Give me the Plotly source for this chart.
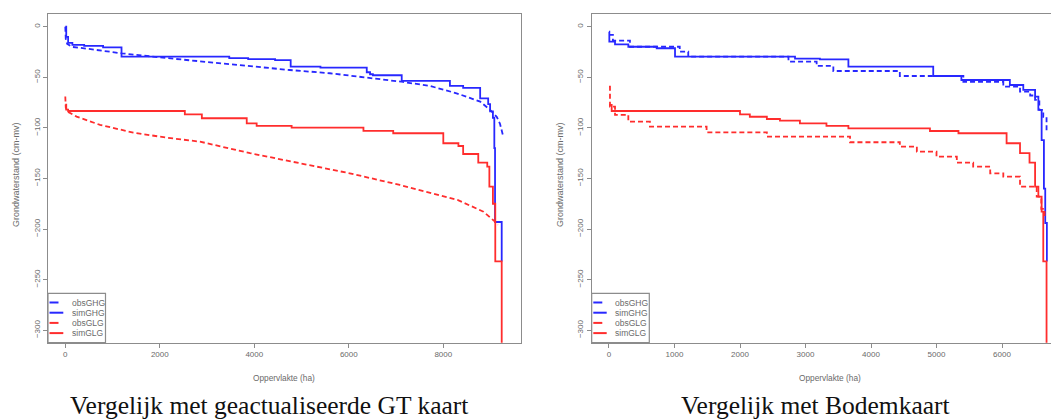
import plotly.graph_objects as go

W, H = 1051, 419

# ---------------- data (area in ha, groundwater level in cm-mv) ----------------
# Left panel: Vergelijk met geactualiseerde GT kaart
L_obsGHG_x = [0, 10, 40, 150, 500, 1190, 2150, 3000, 3900, 4750, 5600, 6380, 7150, 7720, 8280, 8780, 8990, 9130, 9200, 9270]
L_obsGHG_y = [0, -12, -17, -20, -22, -26.3, -31, -35, -38.8, -42.8, -46, -50, -54.6, -58.6, -65.8, -74, -82.3, -89, -96, -108.7]

L_simGHG_x = [0, 20, 60, 150, 400, 800, 1190, 3470, 3870, 4440, 4770, 5400, 6380, 6450, 6510, 7120, 8140, 8420, 8780, 8950, 8990, 9050, 9080, 9095, 9236]
L_simGHG_y = [0, -10, -16, -18, -19, -20.5, -29.6, -31, -32, -33, -39.5, -40.5, -45, -47, -48, -53.5, -58.5, -60.5, -70.8, -76.6, -83.6, -90, -120, -193, -232]

L_obsGLG_x = [0, 10, 50, 240, 735, 1440, 2150, 2850, 3910, 4970, 6020, 7080, 7790, 8300, 8850, 9095, 9150]
L_obsGLG_y = [-69, -80, -84, -88.9, -97, -104.7, -109.7, -113.6, -125, -135, -144.9, -156.4, -164.6, -171.2, -182.8, -192.7, -196]

L_simGLG_x = [0, 20, 60, 2530, 2890, 3840, 4050, 4790, 6310, 6940, 8000, 8320, 8420, 8740, 8930, 8975, 9050, 9100, 9236]
L_simGLG_y = [-77, -82, -83.3, -86.6, -90.5, -95.5, -98, -99.8, -103, -105.3, -115.2, -117.9, -125.8, -134.4, -138.3, -158, -175, -232, -340]

# Right panel: Vergelijk met Bodemkaart
R_obsGHG_x = [0, 60, 320, 1080, 1210, 2740, 3170, 3425, 4440, 5410, 6020, 6275, 6430, 6505, 6570, 6630, 6680]
R_obsGHG_y = [-8, -13.8, -19.8, -24.7, -29.6, -34.6, -38.8, -43.8, -48.7, -54.4, -59.3, -64.2, -68, -72.4, -82.3, -89, -105.3]

R_simGHG_x = [0, 5, 92, 295, 728, 1008, 2840, 3220, 3655, 4950, 5380, 6120, 6325, 6505, 6555, 6605, 6640, 6660, 6685]
R_simGHG_y = [-5, -14.8, -17.4, -19.8, -21.3, -29.6, -31.6, -32.2, -39.5, -48.7, -52.7, -57.6, -62.5, -69.2, -82.3, -112, -160, -194, -232]

R_obsGLG_x = [0, 15, 92, 295, 625, 1490, 2410, 3680, 4440, 4700, 5000, 5310, 5560, 5820, 6020, 6275, 6530, 6600, 6650]
R_obsGLG_y = [-59.3, -79, -87.2, -93.9, -98.8, -104.4, -108.7, -114.2, -118.6, -123.5, -128.5, -134.4, -138.3, -144.9, -148.2, -158, -168, -180, -190]

R_simGLG_x = [0, 41, 2000, 2150, 2410, 2610, 2915, 3320, 3655, 4900, 5335, 6070, 6275, 6420, 6505, 6555, 6605, 6630, 6680]
R_simGLG_y = [-77.4, -83.3, -86.6, -89, -91.2, -92.9, -95.5, -98.1, -100.4, -103.1, -105.3, -115.2, -125, -134.4, -158, -168, -182.8, -232, -340]

series_names = ["obsGHG", "simGHG", "obsGLG", "simGLG"]
y_ticks = [0, -50, -100, -150, -200, -250, -300]
L_x_ticks = [0, 2000, 4000, 6000, 8000]
R_x_ticks = [0, 1000, 2000, 3000, 4000, 5000, 6000]
captions = ["Vergelijk met geactualiseerde GT kaart", "Vergelijk met Bodemkaart"]
x_title = "Oppervlakte (ha)"
y_title = "Grondwaterstand (cm-mv)"

# ---------------- styling ----------------
BLUE = "rgb(40,40,255)"
RED = "rgb(255,45,45)"
DASH = "5px,3px"
GREY = "#8c8c8c"
TXT = "#6a6a6a"
colors = [BLUE, BLUE, RED, RED]
dashes = [DASH, "solid", DASH, "solid"]


def px(x):
    return x / W


def py(y):
    return 1 - y / H


fig = go.Figure()

left = [(L_obsGHG_x, L_obsGHG_y, "linear"), (L_simGHG_x, L_simGHG_y, "hv"),
        (L_obsGLG_x, L_obsGLG_y, "linear"), (L_simGLG_x, L_simGLG_y, "hv")]
right = [(R_obsGHG_x, R_obsGHG_y, "hv"), (R_simGHG_x, R_simGHG_y, "hv"),
         (R_obsGLG_x, R_obsGLG_y, "hv"), (R_simGLG_x, R_simGLG_y, "hv")]

for (xs, ys, shape), name, c, d in zip(left, series_names, colors, dashes):
    fig.add_trace(go.Scatter(x=xs, y=ys, mode="lines", name=name, showlegend=False,
                             line=dict(color=c, width=1.8, dash=d, shape=shape),
                             xaxis="x", yaxis="y"))
for (xs, ys, shape), name, c, d in zip(right, series_names, colors, dashes):
    fig.add_trace(go.Scatter(x=xs, y=ys, mode="lines", name=name, showlegend=False,
                             line=dict(color=c, width=1.8, dash=d, shape=shape),
                             xaxis="x2", yaxis="y2"))

ydom = [py(342.7), py(14)]
axis_common = dict(showgrid=False, zeroline=False, showline=True, linecolor=GREY, linewidth=1.3,
                   ticks="outside", ticklen=4, tickcolor=GREY, tickwidth=1,
                   tickfont=dict(family="Liberation Sans, Arial", size=8, color=TXT))

fig.update_layout(
    width=W, height=H, margin=dict(l=0, r=0, t=0, b=0),
    paper_bgcolor="white", plot_bgcolor="white", showlegend=False,
    xaxis=dict(domain=[px(48), px(520.7)], range=[-366, 9638], tickvals=L_x_ticks,
               anchor="y", mirror=True, **axis_common),
    yaxis=dict(domain=ydom, range=[-312.3, 12.55], tickvals=y_ticks, tickangle=-90,
               anchor="x", mirror=True, **axis_common),
    xaxis2=dict(domain=[px(591.7), 1.0], range=[-264, 6748], tickvals=R_x_ticks,
                anchor="y2", mirror=True, **axis_common),
    yaxis2=dict(domain=ydom, range=[-312.3, 12.55], tickvals=y_ticks, tickangle=-90,
                anchor="x2", mirror=False, **axis_common),
)

annotations = []
shapes = []

# axis titles and captions
for cx, capx, cap in zip([284, 830], [269, 815], captions):
    annotations.append(dict(x=px(cx), y=py(378), xref="paper", yref="paper", text=x_title,
                            xanchor="center", yanchor="middle",
                            showarrow=False, font=dict(family="Liberation Sans, Arial", size=8.3, color=TXT)))
    annotations.append(dict(x=px(capx), y=py(405.5), xref="paper", yref="paper", text=cap,
                            xanchor="center", yanchor="middle",
                            showarrow=False, font=dict(family="Liberation Serif, serif", size=25.5, color="#111")))
for lx in [16, 560]:
    annotations.append(dict(x=px(lx), y=py(175), xref="paper", yref="paper", text=y_title, textangle=-90,
                            xanchor="center", yanchor="middle",
                            showarrow=False, font=dict(family="Liberation Sans, Arial", size=9, color=TXT)))

# legends (drawn in the bottom-left corner of each panel)
for bx0, bx1, lx0, lx1, tx in [(48, 105.5, 49.5, 63.3, 70), (591.7, 649.3, 593.3, 606.7, 613.3)]:
    shapes.append(dict(type="rect", xref="paper", yref="paper", x0=px(bx0), x1=px(bx1),
                       y0=py(342.7), y1=py(293.3), line=dict(color=GREY, width=1.2), fillcolor="white",
                       layer="above"))
    for i, (name, c, d) in enumerate(zip(series_names, colors, dashes)):
        yy = 302.5 + i * 10.2
        shapes.append(dict(type="line", xref="paper", yref="paper", x0=px(lx0), x1=px(lx1),
                           y0=py(yy), y1=py(yy), line=dict(color=c, width=2, dash="dash" if d != "solid" else "solid"),
                           layer="above"))
        annotations.append(dict(x=px(tx), y=py(yy), xref="paper", yref="paper", text=name,
                                xanchor="left", yanchor="middle", showarrow=False,
                                font=dict(family="Liberation Sans, Arial", size=8.5, color=TXT)))

fig.update_layout(annotations=annotations, shapes=shapes)
fig.write_html("out.html")
